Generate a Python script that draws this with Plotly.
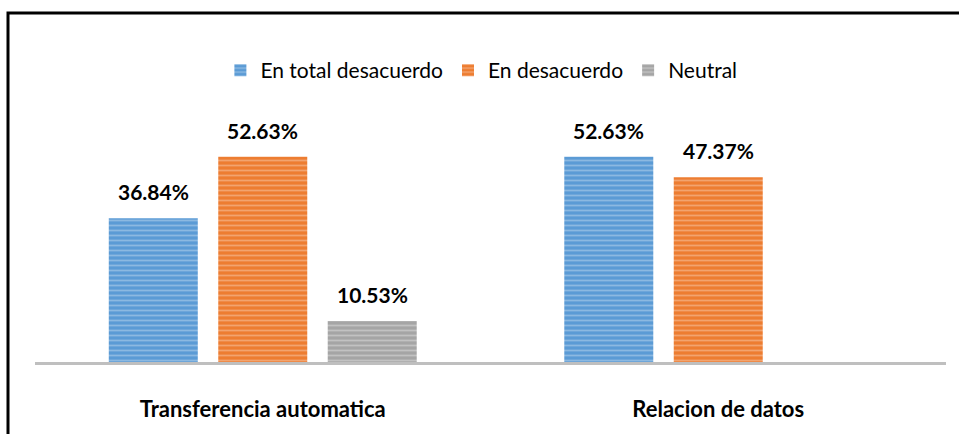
import plotly.graph_objects as go

categories = ["Transferencia automatica", "Relacion de datos"]
series_names = ["En total desacuerdo", "En desacuerdo", "Neutral"]
total_desacuerdo = [36.84, 52.63]
desacuerdo = [52.63, 47.37]
neutral = [10.53, 0]

values = [total_desacuerdo, desacuerdo, neutral]
base_colors = ["#5B9BD5", "#ED7D31", "#A5A5A5"]
stripe_colors = ["#BDD7EE", "#F8CBAD", "#E0E0E0"]

fig = go.Figure()
for name, vals, bc, sc in zip(series_names, values, base_colors, stripe_colors):
    fig.add_trace(go.Bar(
        x=categories, y=vals, name=name,
        marker=dict(color=bc, line=dict(width=0),
                    pattern=dict(shape="-", bgcolor=bc, fgcolor=sc, size=5, solidity=0.35, fillmode="overlay")),
    ))

W, H = 959, 434
ml, mr, mt, mb = 35, 13, 128, 70
BARGAP, BARGROUPGAP = 0.279, 0.187
plot_w = W - ml - mr
group_px = plot_w / len(categories) * (1 - BARGAP)
slot_px = group_px / len(series_names)

annotations = []
for i, vals in enumerate(values):
    for cat, v in zip(categories, vals):
        if v <= 0:
            continue
        annotations.append(dict(
            x=cat, y=v, xref="x", yref="y", text=f"<b>{v:.2f}%</b>",
            showarrow=False, yanchor="bottom", yshift=12,
            xshift=(i - (len(series_names) - 1) / 2) * slot_px,
            font=dict(family="Lato, Open Sans, sans-serif", size=21, color="#000000"),
        ))

plot_h = H - mt - mb
def px_to_paper_x(px):
    return (px - ml) / plot_w
def px_to_paper_y(py):
    return (H - mb - py) / plot_h

fig.update_layout(
    width=W, height=H,
    margin=dict(l=ml, r=mr, t=mt, b=mb),
    paper_bgcolor="white", plot_bgcolor="white",
    barmode="group", bargap=BARGAP, bargroupgap=BARGROUPGAP,
    showlegend=True,
    legend=dict(orientation="h", x=0.49, xanchor="center", y=px_to_paper_y(70), yanchor="middle",
                font=dict(family="Lato, Open Sans, sans-serif", size=21, color="#000000"),
                itemwidth=30, bgcolor="rgba(0,0,0,0)"),
    xaxis=dict(showline=True, linecolor="#BFBFBF", linewidth=3, showgrid=False, zeroline=False,
               ticks="", ticklabelstandoff=26,
               tickfont=dict(family="Lato, Open Sans, sans-serif", size=22, color="#000000"),
               tickprefix="<b>", ticksuffix="</b>"),
    yaxis=dict(range=[0, 60], visible=False, showgrid=False, zeroline=False),
    annotations=annotations,
    shapes=[dict(type="rect", xref="paper", yref="paper",
                 x0=px_to_paper_x(8), x1=px_to_paper_x(1000),
                 y0=px_to_paper_y(480), y1=px_to_paper_y(12),
                 line=dict(color="#000000", width=3), fillcolor="rgba(0,0,0,0)")],
)

fig.write_html("out.html", config={"displayModeBar": False},
               post_script="document.body.style.margin='0px';document.body.style.overflow='hidden';")
